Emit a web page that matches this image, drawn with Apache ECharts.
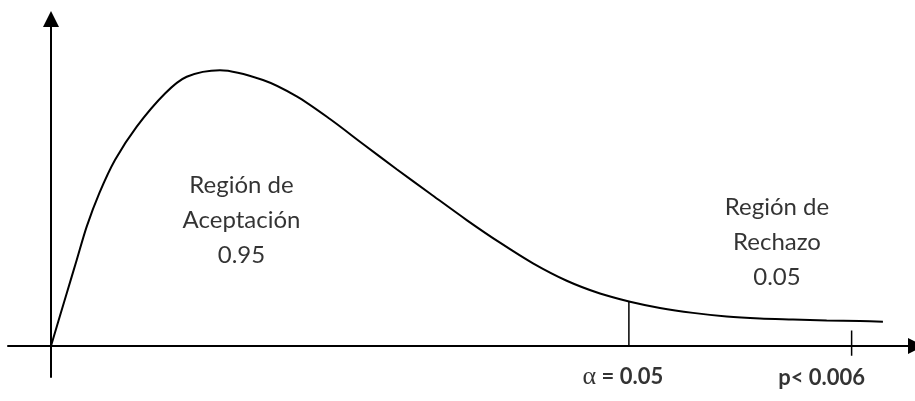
<!DOCTYPE html>
<html>
<head>
<meta charset="utf-8">
<script src="https://cdn.jsdelivr.net/npm/echarts@6/dist/echarts.min.js"></script>
<style>
  html, body { margin: 0; padding: 0; background: #fff; }
  #chart { width: 915px; height: 401px; }
</style>
</head>
<body>
<div id="chart"></div>
<script>
// curva de densidad
const curveX = [0, 0.183, 0.299, 0.415, 0.562, 0.744, 0.997, 1.326, 1.578, 1.965, 2.465, 2.857, 3.244,
    3.628, 4.020, 4.407, 4.834, 5.221, 5.605, 5.997, 6.384, 6.733, 7.081, 7.465, 7.857, 8.244, 8.628,
    9.020, 9.407, 9.674];
const curveY = [0, 0.161, 0.262, 0.364, 0.466, 0.567, 0.669, 0.770, 0.821, 0.841, 0.811, 0.761, 0.692,
    0.616, 0.539, 0.465, 0.384, 0.315, 0.252, 0.199, 0.160, 0.135, 0.116, 0.101, 0.090, 0.084, 0.081,
    0.078, 0.076, 0.074];

// valor critico y valor p
const alphaX = 6.72;
const alphaTop = 0.135;
const pX = 9.31;
const pTick = [-0.03, 0.047];

// textos
const regionLabels = [
    { x: 2.215, y: 0.384, text: 'Región de\nAceptación\n0.95' },
    { x: 8.442, y: 0.317, text: 'Región de\nRechazo\n0.05' }
];
const alphaLabel = '{a|α}{b| = 0.05}';
const pLabel = 'p< 0.006';

var dom = document.getElementById('chart');
var myChart = echarts.init(dom, null, { renderer: 'canvas' });

const curveData = curveX.map((x, i) => [x, curveY[i]]);

const option = {
    animation: false,
    grid: { left: 8, right: 0, top: 19, bottom: 24 },
    xAxis: {
        type: 'value',
        min: -0.5,
        max: 10.047,
        axisLine: {
            onZero: true,
            symbol: ['none', 'triangle'],
            symbolSize: [16, 16],
            symbolOffset: [0, 1],
            lineStyle: { color: '#000', width: 2 }
        },
        axisTick: { show: false },
        axisLabel: { show: false },
        splitLine: { show: false }
    },
    yAxis: {
        type: 'value',
        min: -0.0945,
        max: 0.997,
        axisLine: {
            onZero: true,
            symbol: ['none', 'triangle'],
            symbolSize: [16, 16],
            lineStyle: { color: '#000', width: 2 }
        },
        axisTick: { show: false },
        axisLabel: { show: false },
        splitLine: { show: false }
    },
    series: [
        {
            type: 'line',
            data: curveData,
            smooth: 0.3,
            showSymbol: false,
            lineStyle: { color: '#000', width: 2 },
            silent: true
        },
        {
            type: 'line',
            data: [[alphaX, 0], [alphaX, alphaTop]],
            showSymbol: false,
            lineStyle: { color: '#000', width: 1.5 },
            silent: true
        },
        {
            type: 'line',
            data: [[pX, pTick[0]], [pX, pTick[1]]],
            showSymbol: false,
            lineStyle: { color: '#000', width: 1.5 },
            silent: true
        },
        {
            type: 'scatter',
            symbolSize: 0,
            silent: true,
            data: regionLabels.map(d => ({ value: [d.x, d.y], name: d.text })),
            label: {
                show: true,
                position: 'inside',
                formatter: p => p.name,
                fontFamily: 'Lato',
                fontSize: 24,
                lineHeight: 35,
                color: '#000',
                align: 'center'
            }
        },
        {
            type: 'scatter',
            symbolSize: 0,
            silent: true,
            data: [
                { value: [alphaX, 0], label: { formatter: alphaLabel, offset: [-6, 0] } },
                { value: [pX, 0], label: { formatter: pLabel, offset: [-30, 3] } }
            ],
            label: {
                show: true,
                position: 'bottom',
                distance: 18,
                fontFamily: 'Lato',
                fontWeight: 'bold',
                fontSize: 22,
                color: '#000',
                rich: {
                    a: { fontFamily: 'Liberation Serif', fontWeight: 'normal', fontSize: 26, color: '#000' },
                    b: { fontFamily: 'Lato', fontWeight: 'bold', fontSize: 22, color: '#000' }
                }
            }
        }
    ]
};

myChart.setOption(option);
window.addEventListener('resize', myChart.resize);
</script>
</body>
</html>
